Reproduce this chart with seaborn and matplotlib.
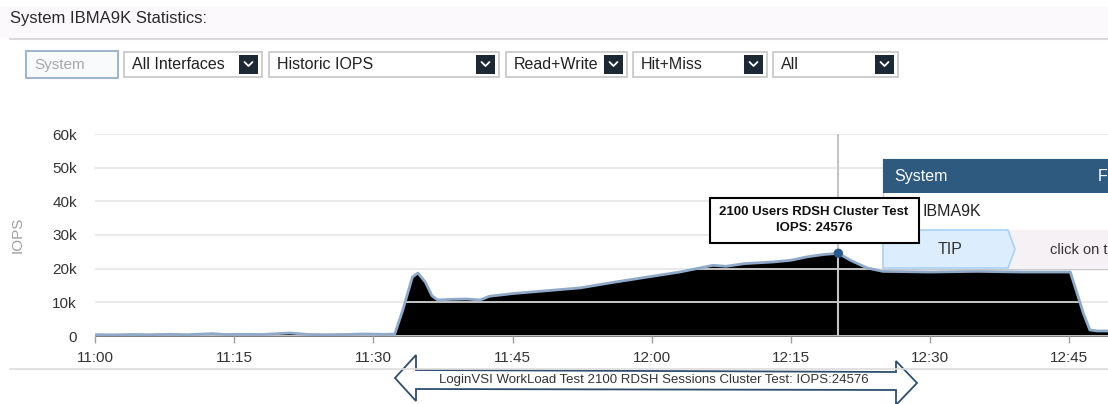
import matplotlib
matplotlib.use("Agg")
import matplotlib.pyplot as plt
from matplotlib.patches import Rectangle, Polygon
import seaborn as sns
import pandas as pd

# IOPS series, minutes after 11:00
minutes = [0, 2, 4, 6, 8, 10, 12.7, 14, 16, 18, 21, 23, 25, 27, 29, 31, 32.3,
           33.2, 34.2, 34.8, 35.6, 36.3, 36.9, 38.5, 40, 41.5, 42.5, 45, 48,
           52.3, 56, 59.5, 63, 66.6, 68, 70, 73.1, 75, 76.7, 78.5, 80.1, 81.4,
           83.2, 84.9, 90, 95, 100, 105.1, 106.5, 107.2, 108, 109.5]
iops = [400, 350, 450, 400, 500, 400, 700, 450, 500, 450, 900, 450, 400, 450,
        600, 500, 550,
        8000, 17500, 18700, 16000, 12000, 10700, 10900, 11000, 10700, 11800,
        12600, 13300, 14300, 16000, 17500, 19000, 21000, 20700, 21500, 22000,
        22500, 23500, 24200, 24576, 22500, 20200, 19200, 19000, 19200, 19000,
        19000, 6800, 1800, 1500, 1500]

tick_minutes = [0, 15, 30, 45, 60, 75, 90, 105]
tick_labels = ["11:00", "11:15", "11:30", "11:45", "12:00", "12:15", "12:30", "12:45"]
y_ticks = [0, 10000, 20000, 30000, 40000, 50000, 60000]
y_labels = ["0", "10k", "20k", "30k", "40k", "50k", "60k"]

peak_minute = 80.1
peak_iops = 24576

dropdowns = [
    ("System", 26, 118, False),
    ("All Interfaces", 124, 262, True),
    ("Historic IOPS", 269, 499, True),
    ("Read+Write", 506, 627, True),
    ("Hit+Miss", 633, 767, True),
    ("All", 773, 898, True),
]

df = pd.DataFrame({"minute": minutes, "iops": iops})

sns.set_theme(style="white")
plt.rcParams["font.family"] = ["Liberation Sans", "DejaVu Sans"]

W, H = 1108, 404
fig = plt.figure(figsize=(W / 100, H / 100), dpi=100)
fig.patch.set_facecolor("white")

# main chart, placed in pixel terms
px_per_min = 9.28
ax = fig.add_axes([95 / W, 1 - 336 / H, (W - 95) / W, (336 - 134) / H])
ax.fill_between(df["minute"], df["iops"], 0, color="black", zorder=1, linewidth=0)
sns.lineplot(data=df, x="minute", y="iops", ax=ax, color="#8FA9C9", linewidth=2, zorder=3)
ax.axvline(peak_minute, color="#C4C4C4", linewidth=1.5, zorder=2)
sns.scatterplot(x=[peak_minute], y=[peak_iops], ax=ax, color="#2B5B8C", s=45,
                zorder=5, edgecolor="none")

ax.set_xlim(0, (W - 95) / px_per_min)
ax.set_ylim(0, 60000)
ax.set_xticks(tick_minutes)
ax.set_xticklabels(tick_labels)
ax.set_yticks(y_ticks)
ax.set_yticklabels(y_labels)
ax.set_xlabel("")
ax.set_ylabel("")
for s in ax.spines.values():
    s.set_visible(False)
ax.set_axisbelow("line")
ax.yaxis.grid(True, color="#E6E6E6", linewidth=1.2)
ax.tick_params(axis="y", length=0, pad=13, labelsize=11, labelcolor="#333333")
ax.tick_params(axis="x", length=5, width=1, color="#A0A0A0", direction="out",
               pad=6, labelsize=11, labelcolor="#333333", bottom=True)
ax.patch.set_visible(False)

# overlay in pixel coordinates for the surrounding UI
ov = fig.add_axes([0, 0, 1, 1], zorder=10)
ov.set_xlim(0, W)
ov.set_ylim(H, 0)
ov.axis("off")
ov.patch.set_visible(False)

ov.add_patch(Rectangle((0, 6), W, 32, facecolor="#FCF9FC", edgecolor="none"))
ov.plot([10, W], [39, 39], color="#DADADA", linewidth=1.5)
ov.text(10, 19, "System IBMA9K Statistics:", fontsize=12, color="#2A2A2A",
        va="center", ha="left")

for label, x0, x1, has_arrow in dropdowns:
    if has_arrow:
        ov.add_patch(Rectangle((x0, 52), x1 - x0, 25, facecolor="white",
                               edgecolor="#C6C6C6", linewidth=1.2))
        ov.text(x0 + 8, 64.5, label, fontsize=11.5, color="#222222", va="center")
        ov.add_patch(Rectangle((x1 - 23, 55), 19, 19, facecolor="#1C2833",
                               edgecolor="none"))
        cx = x1 - 13.5
        ov.plot([cx - 4, cx, cx + 4], [62, 66, 62], color="white", linewidth=1.3)
    else:
        ov.add_patch(Rectangle((x0, 51), x1 - x0, 27, facecolor="#F8FAFC",
                               edgecolor="#9DB4CC", linewidth=1.4))
        ov.text(x0 + 8, 64.5, label, fontsize=11, color="#A8A8A8", va="center")

ov.text(18, 235, "IOPS", fontsize=11, color="#A0A0A0", rotation=90,
        ha="center", va="center")

# info panel on the right
ov.add_patch(Rectangle((883, 159), 240, 110, facecolor="white",
                       edgecolor="#C8C8C8", linewidth=1))
ov.add_patch(Rectangle((883, 159), 240, 34, facecolor="#2F5A80", edgecolor="none"))
ov.text(894, 176.5, "System", fontsize=11.5, color="white", va="center")
ov.text(1098, 176.5, "F", fontsize=11.5, color="white", va="center")
ov.text(922, 212, "IBMA9K", fontsize=11.5, color="#222222", va="center")
ov.add_patch(Rectangle((1008, 230), 120, 38, facecolor="#F6F1F4", edgecolor="none"))
ov.add_patch(Polygon([(883, 230), (1008, 230), (1015, 249), (1008, 268), (883, 268)],
                     closed=True, facecolor="#DCEEFD", edgecolor="#A9D1F7", linewidth=1.2))
ov.text(950, 250, "TIP", fontsize=11.5, color="#333333", ha="center", va="center")
ov.text(1050, 250, "click on t", fontsize=10.5, color="#333333", va="center")

# tooltip
ov.add_patch(Rectangle((710, 198), 209, 45, facecolor="white", edgecolor="black",
                       linewidth=1.5))
ov.text(814, 212, "2100 Users RDSH Cluster Test", fontsize=9.5, fontweight="bold",
        ha="center", va="center", color="#111111")
ov.text(814, 228, f"IOPS: {peak_iops}", fontsize=9.5, fontweight="bold",
        ha="center", va="center", color="#111111")

# bottom separator and double arrow callout
ov.plot([10, W], [369, 369], color="#DDDDDD", linewidth=1.2)
ov.add_patch(Polygon([(395, 378), (416, 355), (416, 370), (896, 372), (896, 361),
                      (917, 383), (896, 405), (896, 390), (416, 389), (416, 401)],
                     closed=True, facecolor="white", edgecolor="#2F4E6E", linewidth=1.3))
ov.text(654, 380, "LoginVSI WorkLoad Test 2100 RDSH Sessions Cluster Test: IOPS:24576",
        fontsize=9.5, color="#333333", ha="center", va="center")

fig.savefig("out.png", dpi=100)
